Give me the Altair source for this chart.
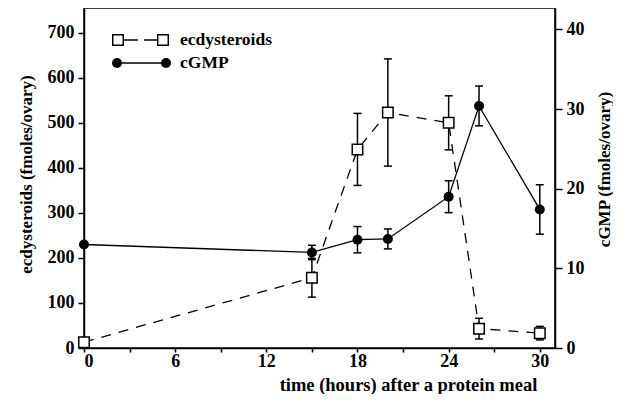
import altair as alt
import pandas as pd

hours = [0, 15, 18, 20, 24, 26, 30]
ecdysteroids = [13, 156, 441, 523, 500, 43, 33]
ecdysteroids_err = [0, 43, 80, 119, 60, 23, 15]
cgmp = [13.0, 12.0, 13.6, 13.7, 19.0, 30.4, 17.4]
cgmp_err = [0, 0.9, 1.65, 1.25, 2.0, 2.5, 3.1]

x_ticks = [0, 3, 6, 9, 12, 15, 18, 21, 24, 27, 30]
left_ticks = [0, 100, 200, 300, 400, 500, 600, 700]
right_ticks = [0, 10, 20, 30, 40]
legend_labels = ["ecdysteroids", "cGMP"]

FONT = "Liberation Serif"

df = pd.DataFrame({
    "hours": hours,
    "ecd": ecdysteroids,
    "ecd_lo": [v - e for v, e in zip(ecdysteroids, ecdysteroids_err)],
    "ecd_hi": [v + e for v, e in zip(ecdysteroids, ecdysteroids_err)],
    "ecd_err": ecdysteroids_err,
    "cg": cgmp,
    "cg_lo": [v - e for v, e in zip(cgmp, cgmp_err)],
    "cg_hi": [v + e for v, e in zip(cgmp, cgmp_err)],
    "cg_err": cgmp_err,
})

xs = alt.Scale(domain=[0, 31], nice=False, zero=False)
x_axis = alt.Axis(values=x_ticks,
                  labelExpr="datum.value % 6 == 0 ? datum.label : ''",
                  title="time (hours) after a protein meal",
                  titleX=324, titleY=36, titleAlign="center", titleBaseline="middle",
                  titleFontSize=18.5, tickSize=4, labelPadding=0)
X = alt.X("hours:Q", scale=xs, axis=x_axis)

ly = alt.Scale(domain=[0, 755], nice=False)
ry = alt.Scale(domain=[0, 42.7], nice=False)

left_axis = alt.Axis(values=left_ticks, title="ecdysteroids (fmoles/ovary)",
                     titleX=-58, titleY=166, titleAngle=270, titleAlign="center",
                     titleBaseline="middle", tickSize=6, labelPadding=4)
right_axis = alt.Axis(values=right_ticks, orient="right", title="cGMP (fmoles/ovary)",
                      titleX=49, titleY=161, titleAngle=270, titleAlign="center",
                      titleBaseline="middle", tickSize=7, labelPadding=4)


def LY(field):
    return alt.Y(field, scale=ly, axis=left_axis)


def RY(field):
    return alt.Y(field, scale=ry, axis=right_axis)


base = alt.Chart(df)
err_e = base.transform_filter("datum.ecd_err > 0")
err_c = base.transform_filter("datum.cg_err > 0")

ecd_line = base.mark_line(color="black", strokeWidth=1.3, strokeDash=[10, 8]).encode(
    x=X, y=LY("ecd:Q"))
ecd_rule = err_e.mark_rule(color="black", strokeWidth=1.5).encode(
    x=X, y=LY("ecd_lo:Q"), y2="ecd_hi:Q")
ecd_cap_hi = err_e.mark_rule(color="black", strokeWidth=1.5, xOffset=-4, x2Offset=4).encode(
    x=X, x2="hours:Q", y=LY("ecd_hi:Q"))
ecd_cap_lo = err_e.mark_rule(color="black", strokeWidth=1.5, xOffset=-4, x2Offset=4).encode(
    x=X, x2="hours:Q", y=LY("ecd_lo:Q"))
ecd_pts = base.mark_square(size=110, color="white", stroke="black", strokeWidth=1.5, opacity=1).encode(
    x=X, y=LY("ecd:Q"))
ecd_layer = alt.layer(ecd_line, ecd_rule, ecd_cap_hi, ecd_cap_lo, ecd_pts)

cg_line = base.mark_line(color="black", strokeWidth=1.3).encode(
    x=X, y=RY("cg:Q"))
cg_rule = err_c.mark_rule(color="black", strokeWidth=1.5).encode(
    x=X, y=RY("cg_lo:Q"), y2="cg_hi:Q")
cg_cap_hi = err_c.mark_rule(color="black", strokeWidth=1.5, xOffset=-4, x2Offset=4).encode(
    x=X, x2="hours:Q", y=RY("cg_hi:Q"))
cg_cap_lo = err_c.mark_rule(color="black", strokeWidth=1.5, xOffset=-4, x2Offset=4).encode(
    x=X, x2="hours:Q", y=RY("cg_lo:Q"))
cg_pts = base.mark_circle(size=100, color="black", opacity=1).encode(
    x=X, y=RY("cg:Q"))
cg_layer = alt.layer(cg_line, cg_rule, cg_cap_hi, cg_cap_lo, cg_pts)

# legend
leg1 = alt.Chart(pd.DataFrame({"label": [legend_labels[0]]}))
leg2 = alt.Chart(pd.DataFrame({"label": [legend_labels[1]]}))
l1_line = leg1.mark_rule(color="black", strokeWidth=1.3, strokeDash=[14, 6]).encode(
    x=alt.value(40), x2=alt.value(74), y=alt.value(32))
l1_pts_a = leg1.mark_square(size=110, color="white", stroke="black", strokeWidth=1.5, opacity=1).encode(
    x=alt.value(34), y=alt.value(32))
l1_pts_b = leg1.mark_square(size=110, color="white", stroke="black", strokeWidth=1.5, opacity=1).encode(
    x=alt.value(79), y=alt.value(32))
l1_text = leg1.mark_text(align="left", baseline="middle", font=FONT, fontWeight="bold",
                         fontSize=17.5, color="black").encode(
    x=alt.value(96), y=alt.value(32), text="label:N")
l2_line = leg2.mark_rule(color="black", strokeWidth=1.3).encode(
    x=alt.value(33), x2=alt.value(82), y=alt.value(55))
l2_pts_a = leg2.mark_circle(size=100, color="black", opacity=1).encode(
    x=alt.value(33), y=alt.value(55))
l2_pts_b = leg2.mark_circle(size=100, color="black", opacity=1).encode(
    x=alt.value(82), y=alt.value(55))
l2_text = leg2.mark_text(align="left", baseline="middle", font=FONT, fontWeight="bold",
                         fontSize=17.5, color="black").encode(
    x=alt.value(96), y=alt.value(55), text="label:N")

chart = alt.layer(
    ecd_layer, cg_layer,
    l1_line, l1_pts_a, l1_pts_b, l1_text,
    l2_line, l2_pts_a, l2_pts_b, l2_text,
).resolve_scale(y="independent").properties(
    width=471, height=340,
    autosize=alt.AutoSizeParams(type="none"),
    padding={"left": 76, "top": 0, "right": 58, "bottom": 46},
).configure_view(
    stroke="black", strokeWidth=1.5
).configure_axis(
    grid=False, domainColor="black", domainWidth=1.5, tickColor="black", tickWidth=1.5,
    labelFont=FONT, labelFontWeight="bold", labelFontSize=18, labelColor="black",
    titleFont=FONT, titleFontWeight="bold", titleFontSize=17, titleColor="black",
)

chart.save("out.html", embed_options={"renderer": "svg", "actions": False})
